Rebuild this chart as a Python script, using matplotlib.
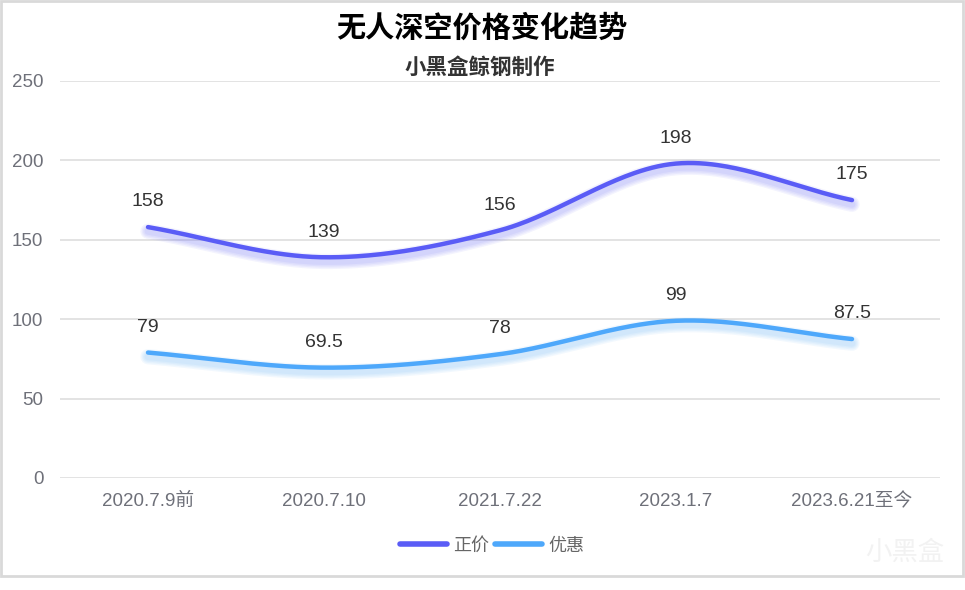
import numpy as np
import matplotlib
matplotlib.use('Agg')
import matplotlib.pyplot as plt
import matplotlib.patheffects as pe
from matplotlib.lines import Line2D
from matplotlib.patches import Rectangle

plt.rcParams['font.family'] = ['Liberation Sans', 'Noto Sans CJK SC', 'DejaVu Sans']

# 数据
categories = ['2020.7.9前', '2020.7.10', '2021.7.22', '2023.1.7', '2023.6.21至今']
full_price = [158, 139, 156, 198, 175]
sale_price = [79, 69.5, 78, 99, 87.5]
series_names = ['正价', '优惠']
colors = ['#5a5cf6', '#4ea8fb']


# 平滑曲线 (Catmull-Rom)
def smooth(y, n=60):
    y = np.asarray(y, dtype=float)
    x = np.arange(len(y), dtype=float)
    m = np.gradient(y)
    xs, ys = [], []
    for i in range(len(y) - 1):
        t = np.linspace(0, 1, n)
        h00 = 2 * t**3 - 3 * t**2 + 1
        h10 = t**3 - 2 * t**2 + t
        h01 = -2 * t**3 + 3 * t**2
        h11 = t**3 - t**2
        xs.append(x[i] + t)
        ys.append(h00 * y[i] + h10 * m[i] + h01 * y[i + 1] + h11 * m[i + 1])
    return np.concatenate(xs), np.concatenate(ys)


fig = plt.figure(figsize=(9.65, 5.9), dpi=100)
ax = fig.add_axes([60 / 965, 1 - 478 / 590, 880 / 965, 397 / 590])

for vals, col in zip([full_price, sale_price], colors):
    sx, sy = smooth(vals)
    shadow = [pe.SimpleLineShadow(offset=(0, -3), shadow_color=col, alpha=0.07, linewidth=w)
              for w in (5, 7, 9, 11)]
    ax.plot(sx, sy, color=col, lw=3.2, solid_capstyle='round', zorder=3,
            path_effects=shadow + [pe.Normal()])
    for i, v in enumerate(vals):
        lbl = ('%g' % v)
        ax.annotate(lbl, (i, v), xytext=(0, 12), textcoords='offset points',
                    ha='center', va='bottom', fontsize=14, color='#333333')

ax.set_xlim(-0.5, 4.5)
ax.set_ylim(0, 250)
ax.set_yticks(range(0, 251, 50))
ax.set_xticks(range(len(categories)))
ax.set_xticklabels(categories)
ax.grid(axis='y', color='#e0e0e0', lw=1.3)
ax.set_axisbelow(True)
for s in ax.spines.values():
    s.set_visible(False)
ax.tick_params(length=0, labelsize=13.5, labelcolor='#6e7079')
ax.tick_params(axis='x', pad=11)
ax.tick_params(axis='y', pad=12)

fig.text(482 / 965, 1 - 28 / 590, '无人深空价格变化趋势', ha='center', va='center',
         fontsize=21, fontweight='bold', color='#000000')
fig.text(480 / 965, 1 - 68 / 590, '小黑盒鲸钢制作', ha='center', va='center',
         fontsize=15.5, fontweight='bold', color='#333333')

handles = [Line2D([], [], color=c, lw=4, solid_capstyle='round') for c in colors]
leg = fig.legend(handles, series_names, loc='center', bbox_to_anchor=(492 / 965, 1 - 546 / 590),
                 ncol=2, frameon=False, fontsize=13, handlelength=2.6, columnspacing=0.3,
                 handletextpad=0.35)
for t in leg.get_texts():
    t.set_color('#666666')

# 水印
fig.text(905 / 965, 1 - 553 / 590, '小黑盒', ha='center', va='center', fontsize=19,
         color='#f2f2f2')

fig.patches.append(Rectangle((1 / 965, 1 - 576 / 590), 962 / 965, 575 / 590,
                             transform=fig.transFigure, fill=False, edgecolor='#d9d9d9', lw=2))

fig.savefig('out.png', dpi=100)
